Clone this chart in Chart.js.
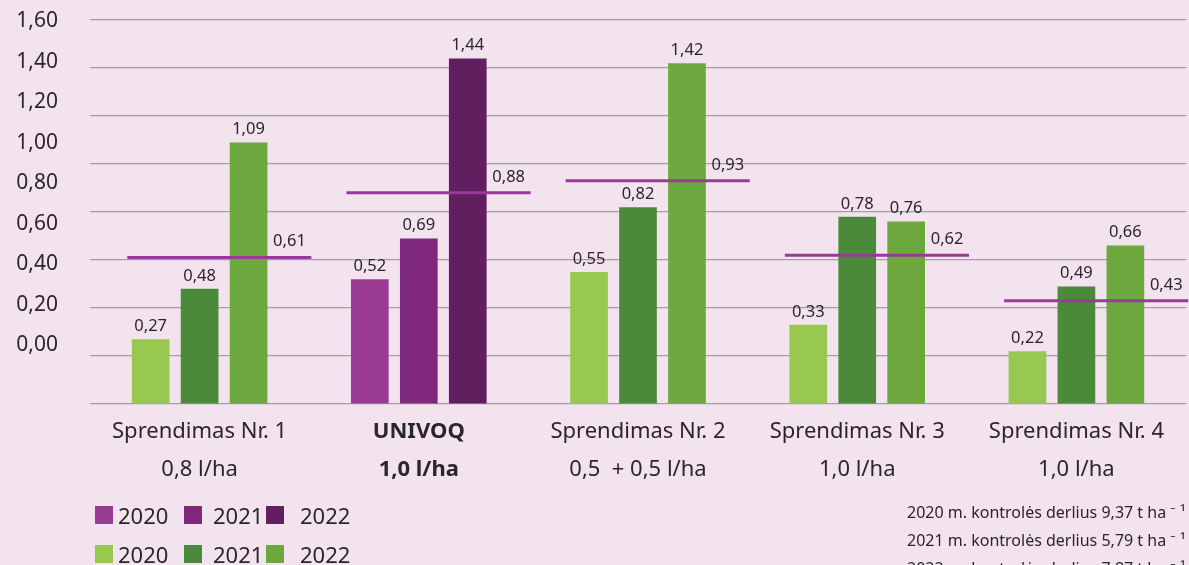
<!DOCTYPE html>
<html lang="lt">
<head>
<meta charset="utf-8">
<title>Sprendimai</title>
<script src="https://cdn.jsdelivr.net/npm/chart.js@4.4.1/dist/chart.umd.min.js"></script>
<style>
    html, body { margin: 0; padding: 0; background: #f3e3ef; overflow: hidden; }
    .wrap { position: relative; width: 1189px; height: 565px; font-family: "Noto Sans", sans-serif; color: #2b2629; }
    #chart { position: absolute; left: 0; top: 0; }
    .legend-row { position: absolute; left: 0; width: 400px; height: 26px; font-size: 22px; }
    .legend-item { position: absolute; top: 0; height: 26px; display: flex; align-items: center; white-space: nowrap; }
    .legend-item i { display: inline-block; width: 18px; height: 18px; }
    .notes { position: absolute; left: 907px; top: 498px; font-size: 16px; line-height: 28px; white-space: nowrap; }
</style>
</head>
<body>
<div class="wrap">
    <canvas id="chart" width="1189" height="565"></canvas>
    <div id="legend"></div>
    <div class="notes" id="notes"></div>
</div>
<script>
// data
const categories = [
    ["Sprendimas Nr. 1", "0,8 l/ha"],
    ["UNIVOQ", "1,0 l/ha"],
    ["Sprendimas Nr. 2", "0,5  + 0,5 l/ha"],
    ["Sprendimas Nr. 3", "1,0 l/ha"],
    ["Sprendimas Nr. 4", "1,0 l/ha"]
];
const years = ["2020", "2021", "2022"];
const values2020 = [0.27, 0.52, 0.55, 0.33, 0.22];
const values2021 = [0.48, 0.69, 0.82, 0.78, 0.49];
const values2022 = [1.09, 1.44, 1.42, 0.76, 0.66];
const averages = [0.61, 0.88, 0.93, 0.62, 0.43];
const yTickValues = [0, 0.2, 0.4, 0.6, 0.8, 1.0, 1.2, 1.4, 1.6];
const controlYields = ["9,37", "5,79", "7,87"];

// styles
const greens = ["#98c850", "#4b8a3a", "#6ca83d"];
const purples = ["#9a3a92", "#80287c", "#621f60"];
const meanColor = "#983b98";
const textColor = "#2b2629";
const fontFamily = '"Noto Sans", sans-serif';
const univoqIndex = 1;

const fmt = v => v.toFixed(2).replace(".", ",");

function barColors(k) {
    return categories.map((c, i) => i === univoqIndex ? purples[k] : greens[k]);
}

// the x axis is linear (-0.5 .. 4.5) so bars sit on whole numbers and
// the mean segments can start and end between them
const meanPoints = averages.flatMap((m, i) => [
    { x: i - 0.33, y: m },
    { x: i + 0.51, y: m },
    { x: i + 0.52, y: null }
]);

const valueLabels = {
    id: "valueLabels",
    afterDatasetsDraw(chart) {
        const ctx = chart.ctx;
        ctx.save();
        ctx.fillStyle = textColor;
        ctx.font = "16.5px " + fontFamily;
        ctx.textAlign = "center";
        ctx.textBaseline = "middle";
        chart.data.datasets.forEach((ds, di) => {
            const meta = chart.getDatasetMeta(di);
            if (meta.type !== "bar") return;
            meta.data.forEach((bar, j) => {
                ctx.fillText(fmt(ds.data[j].y), bar.x, bar.y - 13);
            });
        });
        const xs = chart.scales.x;
        const ys = chart.scales.y;
        averages.forEach((m, i) => {
            ctx.fillText(fmt(m), xs.getPixelForValue(i + 0.41), ys.getPixelForValue(m) - 16);
        });
        ctx.restore();
    }
};

new Chart(document.getElementById("chart"), {
    type: "bar",
    data: {
        datasets: [
            {
                type: "line",
                label: "vidurkis",
                data: meanPoints,
                borderColor: meanColor,
                borderWidth: 3,
                pointRadius: 0,
                spanGaps: false,
                clip: false,
                order: 0
            },
            ...[values2020, values2021, values2022].map((vals, k) => ({
                type: "bar",
                label: years[k],
                data: vals.map((v, i) => ({ x: i, y: v })),
                backgroundColor: barColors(k),
                categoryPercentage: 0.67,
                barPercentage: 0.77,
                order: 1
            }))
        ]
    },
    options: {
        responsive: false,
        animation: false,
        layout: { padding: { top: 20, right: 3, left: 0, bottom: 0 } },
        plugins: {
            legend: { display: false },
            tooltip: { enabled: false }
        },
        scales: {
            x: {
                type: "linear",
                min: -0.5,
                max: 4.5,
                offset: false,
                afterBuildTicks: s => { s.ticks = categories.map((c, i) => ({ value: i })); },
                afterFit: s => { s.height = 161; s.paddingLeft = 0; s.paddingRight = 0; },
                grid: { display: false, drawTicks: false },
                border: { display: false },
                ticks: {
                    autoSkip: false,
                    maxRotation: 0,
                    minRotation: 0,
                    padding: 9,
                    color: textColor,
                    font: c => ({ family: fontFamily, size: 22, lineHeight: "38px", weight: c.index === univoqIndex ? "bold" : "normal" }),
                    callback: (v, i) => categories[i]
                }
            },
            y: {
                position: "left",
                min: 0,
                max: 1.6,
                afterBuildTicks: s => { s.ticks = yTickValues.map(v => ({ value: v })); },
                afterFit: s => { s.width = 0; s.paddingTop = 0; s.paddingBottom = 0; },
                grid: { color: "#a3a0a3", lineWidth: 1.2, drawTicks: false },
                border: { display: false },
                ticks: { display: false }
            },
            // tick labels sit on their own spacing, not on the grid lines
            yLab: {
                position: "left",
                min: -0.29,
                max: 1.606,
                afterBuildTicks: s => { s.ticks = yTickValues.map(v => ({ value: v })); },
                afterFit: s => { s.width = 90; s.paddingTop = 0; s.paddingBottom = 0; },
                grid: { display: false, drawTicks: false },
                border: { display: false },
                ticks: {
                    padding: 32,
                    color: textColor,
                    font: { family: fontFamily, size: 21 },
                    callback: v => fmt(v)
                }
            }
        }
    },
    plugins: [valueLabels]
});

// legend, two rows: UNIVOQ colours and the others
const legend = document.getElementById("legend");
const itemLeft = [95, 184, 266];
const textGap = [5, 11, 16];
[[purples, 502], [greens, 541]].forEach(([cols, top]) => {
    const row = document.createElement("div");
    row.className = "legend-row";
    row.style.top = top + "px";
    years.forEach((y, k) => {
        const item = document.createElement("div");
        item.className = "legend-item";
        item.style.left = itemLeft[k] + "px";
        item.innerHTML = `<i style="background:${cols[k]}"></i><span style="margin-left:${textGap[k]}px">${y}</span>`;
        row.appendChild(item);
    });
    legend.appendChild(row);
});

document.getElementById("notes").innerHTML = years
    .map((y, k) => `<div>${y} m. kontrolės derlius ${controlYields[k]} t ha ⁻ ¹</div>`)
    .join("");
</script>
</body>
</html>
